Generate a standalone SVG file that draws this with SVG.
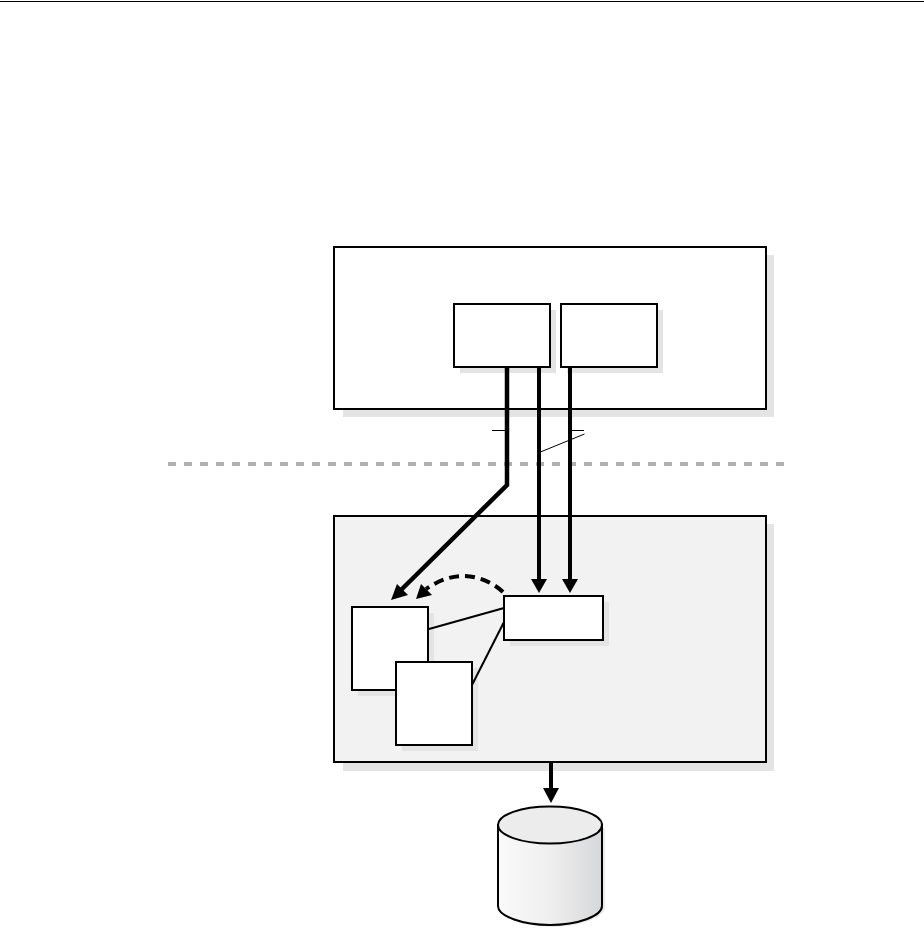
<svg xmlns="http://www.w3.org/2000/svg" width="924" height="929" viewBox="0 0 924 929">
<style>
.shadow{fill:#e4e4e4;stroke:none}
.box{fill:#fff;stroke:#000;stroke-width:2}
.thick{fill:none;stroke:#000;stroke-width:4}
.thin{fill:none;stroke:#000;stroke-width:2}
.hair{fill:none;stroke:#000;stroke-width:1}
.head{fill:#000;stroke:none}
</style>
<defs>
<linearGradient id="cyl" x1="0" y1="0" x2="1" y2="0">
<stop offset="0" stop-color="#fafafa"/>
<stop offset="0.5" stop-color="#efefef"/>
<stop offset="1" stop-color="#d6d7d9"/>
</linearGradient>
</defs>
<rect width="924" height="929" fill="#fff"/>
<path d="M0 1.500H924" stroke="#000" stroke-width="1" fill="none"/>
<g id="upper-tier">
<rect class="shadow" x="343" y="255" width="431" height="162"/>
<rect class="box" x="334" y="247" width="432" height="162"/>
</g>
<g id="upper-left">
<rect class="shadow" x="460" y="310" width="96" height="63"/>
<rect class="box" x="454" y="304" width="96" height="63"/>
</g>
<g id="upper-right">
<rect class="shadow" x="567" y="310" width="96" height="63"/>
<rect class="box" x="561" y="304" width="96" height="63"/>
</g>
<g id="lower-tier">
<rect class="shadow" x="343" y="524" width="431" height="247"/>
<rect class="box" x="334" y="516" width="432" height="246" style="fill:#f2f2f2"/>
</g>
<g id="process-a">
<rect class="shadow" x="358" y="613" width="76" height="83"/>
<rect class="box" x="352" y="607" width="76" height="83"/>
</g>
<g id="process-b">
<rect class="shadow" x="402" y="668" width="76" height="83"/>
<rect class="box" x="396" y="662" width="76" height="83"/>
</g>
<g id="listener">
<rect class="shadow" x="510" y="602" width="99" height="44"/>
<rect class="box" x="504" y="596" width="99" height="44"/>
</g>
<g id="database">
<path d="M501 828V908C501 917 524 927 552 927S605 917 605 908V828Z" fill="#ececec"/>
<path d="M498 825V906C498 916 522 925 550 925S602 916 602 906V825Z" fill="url(#cyl)" stroke="#000" stroke-width="2"/>
<ellipse cx="550" cy="825" rx="52" ry="18.500" fill="#ececec" stroke="#000" stroke-width="2"/>
</g>
<g id="connectors">
<path d="M168 464H784" fill="none" stroke="#b0b0b0" stroke-width="4" stroke-dasharray="8 8"/>
<path class="thick" style="stroke-width:4.500" d="M507 367V485L400 591"/>
<polygon class="head" points="391,600 397,584 408,595"/>
<path class="thick" d="M539 367V580"/>
<polygon class="head" points="539,593 531,579 547,579"/>
<path class="thick" d="M570 367V580"/>
<polygon class="head" points="570,593 562,579 578,579"/>
<path class="thick" d="M503 592C490 580 475 576 463 576C450 576 438 581 426 589" stroke-dasharray="10 6"/>
<polygon class="head" points="416,599 421,584 432,595"/>
<path class="thick" d="M551 762V789"/>
<polygon class="head" points="551,803 543,788 559,788"/>
<path class="thin" d="M429 629L504 608"/>
<path class="thin" d="M472 685L504 622"/>
<path class="hair" d="M492 430.500H507M570 430.500H584"/>
<path class="hair" d="M538 453L584.500 434"/>
</g>
</svg>
